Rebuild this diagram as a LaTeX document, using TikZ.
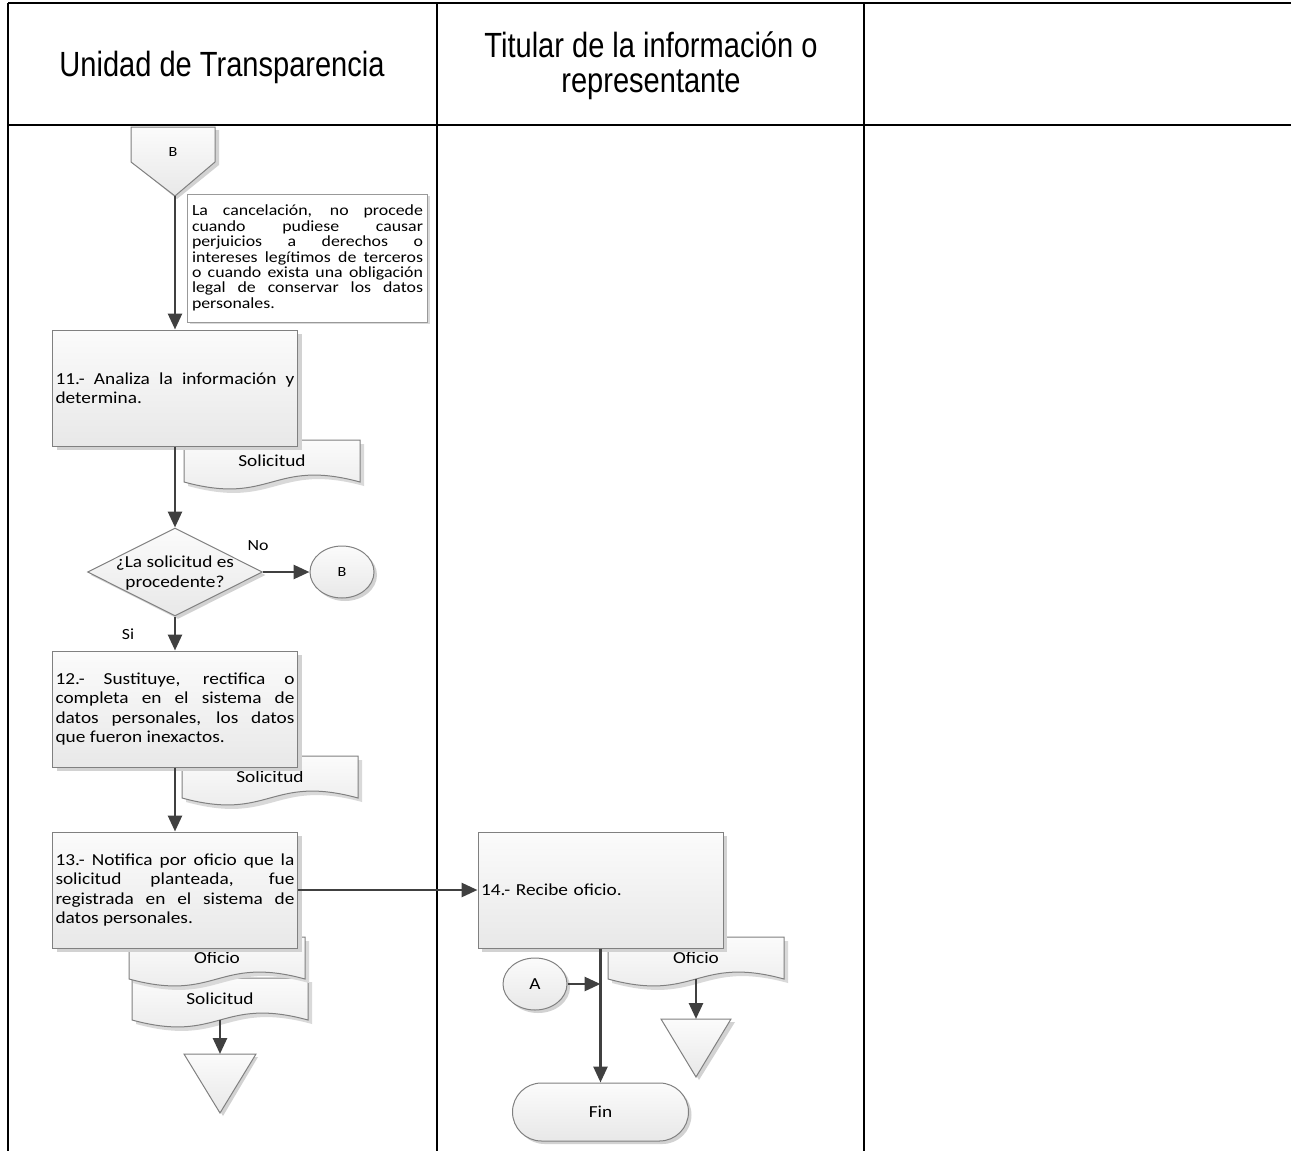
\documentclass[tikz,border=0pt]{standalone}
\usepackage{fontspec}
\setmainfont{Carlito}[FakeStretch=1.15]
\newfontfamily\hdrfont{Liberation Sans}[FakeStretch=0.83]
\usetikzlibrary{arrows.meta,shapes.geometric,shapes.misc,shadows}

\newcommand{\docu}[4]{%
  \fill[gray!30] (#2+4,#3+4) -- (#2+180,#3+4) -- (#2+180,#3+46) .. controls (#2+92,#3+22) and (#2+92,#3+70) .. (#2+4,#3+46) -- cycle;
  \draw[docshape] (#2,#3) -- (#2+176,#3) -- (#2+176,#3+42) .. controls (#2+88,#3+18) and (#2+88,#3+66) .. (#2,#3+42) -- cycle;
  \node[doclabel] (#1) at (#2+88,#3+21) {#4};
}

\begin{document}
\begin{tikzpicture}[x=1pt,y=-1pt,
  tbl/.style={line width=2.5pt},
  lane/.style={line width=2pt},
  hdr/.style={font=\hdrfont\fontsize{35}{35}\selectfont, align=center},
  txt/.style={font=\fontsize{16.8}{19.5}\selectfont},
  small/.style={font=\fontsize{14}{16}\selectfont},
  proc/.style={txt, draw=gray, line width=1pt, top color=gray!3, bottom color=gray!18,
    minimum width=245pt, minimum height=116pt, text width=239pt, align=justify, inner sep=3pt,
    drop shadow={shadow xshift=4pt, shadow yshift=-4pt, fill=gray!35, opacity=1}},
  docshape/.style={draw=gray, line width=1pt, top color=gray!3, bottom color=gray!18},
  doclabel/.style={txt, minimum width=176pt, minimum height=42pt, inner sep=0pt},
  symb/.style={draw=gray, line width=1pt, top color=gray!3, bottom color=gray!18},
  conn/.style={symb, ellipse, minimum width=64pt, minimum height=52pt, inner sep=0pt,
    drop shadow={shadow xshift=3pt, shadow yshift=-3pt, fill=gray!35, opacity=1}},
  decision/.style={symb, diamond, minimum width=175pt, minimum height=88pt, inner sep=0pt,
    drop shadow={shadow xshift=3pt, shadow yshift=-3pt, fill=gray!35, opacity=1}},
  term/.style={txt, symb, rounded rectangle, minimum width=176pt, minimum height=58pt, inner sep=0pt,
    drop shadow={shadow xshift=3pt, shadow yshift=-3pt, fill=gray!35, opacity=1}},
  note/.style={draw=gray!80, line width=0.8pt, fill=white, font=\fontsize{15.5}{15.4}\selectfont,
    minimum width=240pt, minimum height=128pt, text width=231pt, align=justify, inner sep=2pt,
    drop shadow={shadow xshift=2pt, shadow yshift=-2pt, fill=gray!30, opacity=1}},
  flow/.style={draw=black!75, line width=2.7pt, -{Triangle[length=16pt,width=14pt]}}
]

\useasboundingbox (0,0) rectangle (1291,1151);

\draw[tbl] (8,3) -- (1291,3);
\draw[tbl] (8,125) -- (1291,125);
\draw[lane] (8,3) -- (8,1151);
\draw[lane] (437,3) -- (437,1151);
\draw[lane] (864,3) -- (864,1151);

\node[hdr] (hUT) at (222,67) {Unidad de Transparencia};
\node[hdr] (hTit) at (651,66) {Titular de la información o\\representante};

\fill[gray!35] (135,130) -- (219,130) -- (219,165) -- (177,199) -- (135,165) -- cycle;
\draw[symb] (131,127) -- (215,127) -- (215,162) -- (175,196) -- (131,162) -- cycle;
\node[small] (offB) at (173,152) {B};
\coordinate (offBtip) at (175,196);

\node[note] (nota) at (307.5,258) {La cancelación, no procede\linebreak cuando pudiese causar\linebreak perjuicios a derechos o\linebreak intereses legítimos de terceros\linebreak o cuando exista una obligación\linebreak legal de conservar los datos\linebreak personales.};

\docu{dSol1}{184}{440}{Solicitud}
\docu{dSol2}{182}{756}{Solicitud}
\docu{dSol3}{132}{978}{Solicitud}
\docu{dOfi1}{129}{937}{Oficio}
\docu{dOfi2}{608}{937}{Oficio}

\node[proc] (t11) at (175,388) {11.- Analiza la información y\linebreak determina.};
\node[proc] (t12) at (175,709) {12.- Sustituye, rectifica o\linebreak completa en el sistema de\linebreak datos personales, los datos\linebreak que fueron inexactos.};
\node[proc] (t13) at (175,890) {13.- Notifica por oficio que la\linebreak solicitud planteada, fue\linebreak registrada en el sistema de\linebreak datos personales.};
\node[proc, align=left] (t14) at (600.5,890) {14.- Recibe oficio.};

\node[decision] (q1) at (175,572) {};
\node[txt, align=center] (q1txt) at (175,573) {¿La solicitud es\\procedente?};
\node[conn, small] (cB) at (342,572) {B};
\node[txt, font=\fontsize{15.5}{17}\selectfont] (lNo) at (258,546) {No};
\node[txt, font=\fontsize{15.5}{17}\selectfont] (lSi) at (128,634) {Si};

\node[conn, txt] (cA) at (535,984) {A};
\node[term] (fin) at (600.5,1112) {Fin};

\fill[gray!35] (187,1057) -- (258,1057) -- (223,1116) -- cycle;
\draw[symb] (184,1054) -- (256,1054) -- (220,1113) -- cycle;
\coordinate (triL) at (220,1054);
\fill[gray!35] (665,1022) -- (735,1022) -- (699,1080) -- cycle;
\draw[symb] (661,1019) -- (731,1019) -- (696,1077) -- cycle;
\coordinate (triR) at (696,1019);

\draw[flow] (offBtip) -- (t11);
\draw[flow] (t11) -- (q1);
\draw[flow] (q1) -- (cB);
\draw[flow] (q1) -- (t12);
\draw[flow] (t12) -- (t13);
\draw[flow] (t13) -- (t14);
\draw[flow] (t14) -- (fin);
\draw[flow] (cA) -- (cA -| t14);
\draw[flow] (dSol3) -- (triL);
\draw[flow] (dOfi2) -- (triR);

\end{tikzpicture}
\end{document}
